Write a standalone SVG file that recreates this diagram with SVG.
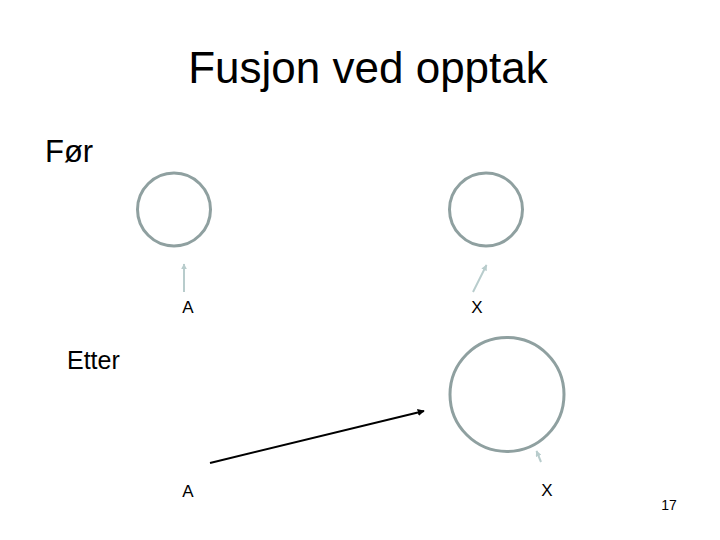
<svg xmlns="http://www.w3.org/2000/svg" width="720" height="540" viewBox="0 0 720 540">
<style>
.t{font-family:"Liberation Sans",Arial,sans-serif;fill:#000}
.c{fill:none;stroke:#8fa0a0;stroke-width:3}
.s{stroke:#b8cccc;stroke-width:2;fill:none}
.lbl{font-family:"Liberation Sans",Arial,sans-serif;font-size:17px;fill:#000}
</style>
<defs>
<marker id="ha" viewBox="0 0 10 10" refX="9" refY="5" markerWidth="3" markerHeight="3" orient="auto"><path d="M0,0L10,5L0,10z" fill="#b8cccc"/></marker>
<marker id="hb" viewBox="0 0 10 10" refX="9" refY="5" markerWidth="3.5" markerHeight="3.5" orient="auto"><path d="M0,0L10,5L0,10z" fill="#000"/></marker>
</defs>
<rect width="720" height="540" fill="#fff"/>
<text class="t" x="368" y="83" font-size="44" text-anchor="middle">Fusjon ved opptak</text>
<text class="t" x="45" y="162" font-size="31">Før</text>
<text class="t" x="67" y="369" font-size="25">Etter</text>
<text class="t" x="669" y="510" font-size="14" text-anchor="middle">17</text>
<g id="nodeA1"><circle class="c" cx="174" cy="209.5" r="36.5"/><text class="lbl" x="188" y="313" text-anchor="middle">A</text></g>
<g id="nodeX1"><circle class="c" cx="486" cy="209.5" r="36.5"/><text class="lbl" x="477" y="313" text-anchor="middle">X</text></g>
<g id="nodeA2"><text class="lbl" x="188" y="497" text-anchor="middle">A</text></g>
<g id="nodeX2"><circle class="c" cx="507" cy="394.5" r="57"/><text class="lbl" x="547" y="496" text-anchor="middle">X</text></g>
<g id="connectors">
<line class="s" x1="184" y1="292" x2="184" y2="264" marker-end="url(#ha)"/>
<line class="s" x1="473" y1="292" x2="486.5" y2="265" marker-end="url(#ha)"/>
<line class="s" x1="541" y1="462" x2="536.5" y2="451" marker-end="url(#ha)"/>
<line stroke="#000" stroke-width="2" x1="210" y1="463" x2="424" y2="411" marker-end="url(#hb)"/>
</g>
</svg>
